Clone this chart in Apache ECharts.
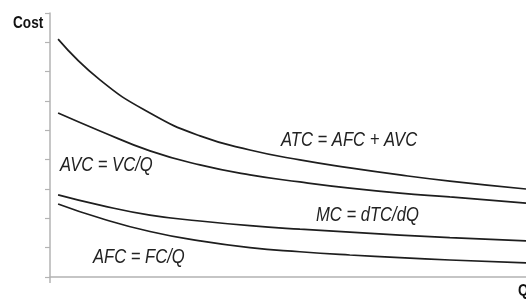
<!DOCTYPE html>
<html>
<head>
<meta charset="utf-8">
<script src="https://cdn.jsdelivr.net/npm/echarts@6/dist/echarts.min.js"></script>
<style>
html,body{margin:0;padding:0;background:#fff;}
#c{width:526px;height:300px;}
</style>
</head>
<body>
<div id="c"></div>
<script>
// Quantity samples (x) and cost curves (y)
var quantity = [1.7, 10.5, 21, 31.5, 42, 52.5, 63, 73.5, 84, 100];
var atc = [8.11, 6.72, 5.59, 4.81, 4.33, 3.99, 3.72, 3.48, 3.27, 3.00];
var avc = [5.59, 4.98, 4.30, 3.82, 3.48, 3.24, 3.03, 2.86, 2.73, 2.52];
var mc  = [2.80, 2.45, 2.11, 1.91, 1.75, 1.63, 1.53, 1.43, 1.34, 1.23];
var afc = [2.49, 2.01, 1.55, 1.23, 1.00, 0.86, 0.75, 0.66, 0.58, 0.48];
var yTicks = [0, 1, 2, 3, 4, 5, 6, 7, 8, 9];
var labels = [
  {text: 'ATC = AFC + AVC', x: 281, y: 140},
  {text: 'AVC = VC/Q', x: 60, y: 165.5},
  {text: 'MC = dTC/dQ', x: 316, y: 215},
  {text: 'AFC = FC/Q', x: 93, y: 257}
];

function pairs(ys){ return quantity.map(function(q,i){ return [q, ys[i]]; }); }

var chart = echarts.init(document.getElementById('c'));
var lineStyle = {color: '#1e1e1e', width: 1.7};
function mkSeries(name, ys){
  return {name: name, type: 'line', data: pairs(ys), smooth: true, showSymbol: false,
          symbol: 'none', lineStyle: lineStyle, silent: true, animation: false};
}
var FAMILY = 'Liberation Sans, Arial, sans-serif';
var graphics = labels.map(function(l){
  return {type: 'text', x: l.x, y: l.y, scaleX: 0.79,
          style: {text: l.text, fontStyle: 'italic', fontSize: 21, fontFamily: FAMILY,
                  fill: '#222', align: 'left', verticalAlign: 'middle'}};
});
graphics.push({type: 'text', x: 13, y: 24, scaleX: 0.85,
  style: {text: 'Cost', fontWeight: 'bold', fontSize: 16, fontFamily: FAMILY,
          fill: '#111', align: 'left', verticalAlign: 'middle'}});
graphics.push({type: 'text', x: 518, y: 292, scaleX: 0.85,
  style: {text: 'Q', fontWeight: 'bold', fontSize: 16, fontFamily: FAMILY,
          fill: '#111', align: 'left', verticalAlign: 'middle'}});

chart.setOption({
  animation: false,
  grid: {left: 50, right: 0, top: 13, bottom: 23},
  xAxis: {
    type: 'value', min: 0, max: 100,
    axisLine: {show: true, lineStyle: {color: '#b3b3b3', width: 1.5}},
    axisTick: {show: true, customValues: [0], length: 6, lineStyle: {color: '#b3b3b3', width: 1.5}},
    axisLabel: {show: false}, splitLine: {show: false}
  },
  yAxis: {
    type: 'value', min: yTicks[0], max: yTicks[yTicks.length - 1], interval: 1,
    axisLine: {show: true, lineStyle: {color: '#b3b3b3', width: 1.5}},
    axisTick: {show: true, length: 5, lineStyle: {color: '#b3b3b3', width: 1.2}},
    axisLabel: {show: false}, splitLine: {show: false}
  },
  series: [mkSeries('ATC', atc), mkSeries('AVC', avc), mkSeries('MC', mc), mkSeries('AFC', afc)],
  graphic: graphics
});
</script>
</body>
</html>
